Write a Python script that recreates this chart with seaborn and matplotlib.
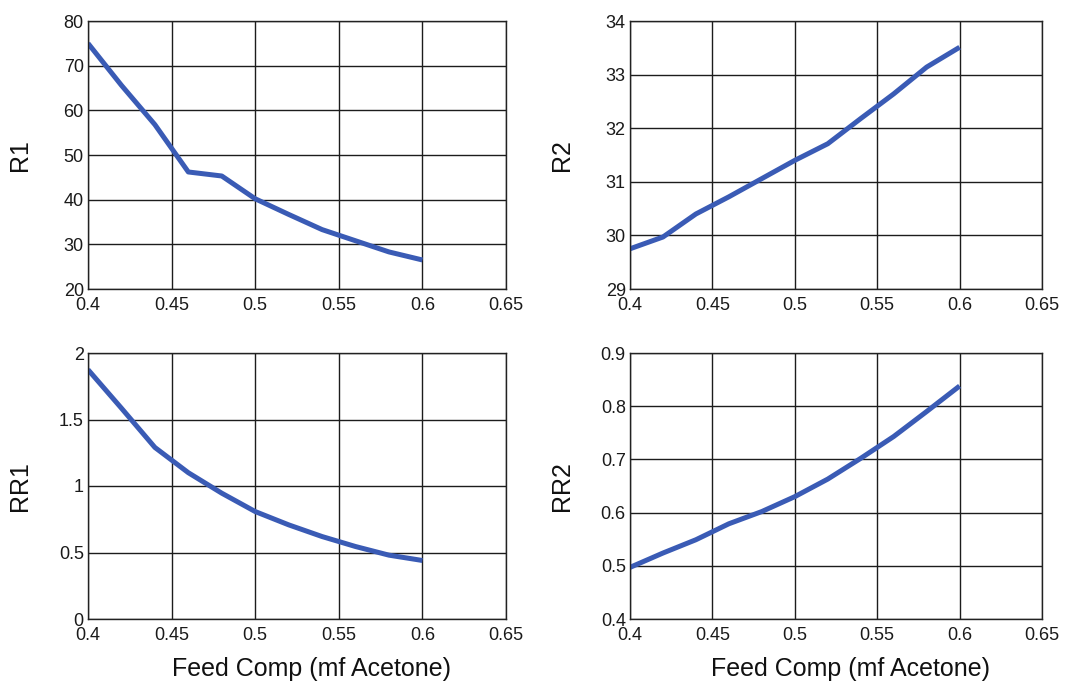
import matplotlib
matplotlib.use("Agg")
import matplotlib.pyplot as plt
import seaborn as sns
import pandas as pd

# Feed composition (mole fraction acetone)
feed_comp = [0.40, 0.42, 0.44, 0.46, 0.48, 0.50, 0.52, 0.54, 0.56, 0.58, 0.60]

# Column responses
r1 = [75.0, 65.6, 56.8, 46.2, 45.3, 40.2, 36.7, 33.3, 30.8, 28.3, 26.5]
r2 = [29.75, 29.97, 30.40, 30.72, 31.06, 31.40, 31.71, 32.18, 32.64, 33.14, 33.51]
rr1 = [1.875, 1.585, 1.29, 1.10, 0.946, 0.808, 0.708, 0.62, 0.545, 0.48, 0.44]
rr2 = [0.497, 0.524, 0.549, 0.579, 0.602, 0.630, 0.663, 0.702, 0.743, 0.790, 0.838]

x_ticks = [0.4, 0.45, 0.5, 0.55, 0.6, 0.65]
x_tick_labels = ["0.4", "0.45", "0.5", "0.55", "0.6", "0.65"]

panels = [
    ("R1", r1, (20, 80), [20, 30, 40, 50, 60, 70, 80], ["20", "30", "40", "50", "60", "70", "80"]),
    ("R2", r2, (29, 34), [29, 30, 31, 32, 33, 34], ["29", "30", "31", "32", "33", "34"]),
    ("RR1", rr1, (0, 2), [0, 0.5, 1, 1.5, 2], ["0", "0.5", "1", "1.5", "2"]),
    ("RR2", rr2, (0.4, 0.9), [0.4, 0.5, 0.6, 0.7, 0.8, 0.9], ["0.4", "0.5", "0.6", "0.7", "0.8", "0.9"]),
]

sns.set_theme(style="whitegrid")
plt.rcParams["font.family"] = ["Liberation Sans", "DejaVu Sans"]
plt.rcParams["axes.edgecolor"] = "black"
plt.rcParams["axes.linewidth"] = 1.0

fig = plt.figure(figsize=(10.72, 6.82), dpi=100)

W, H = 1072, 682
boxes = [
    (88, 21, 506, 289),
    (630, 21, 1042, 289),
    (88, 353, 506, 619),
    (630, 353, 1042, 619),
]

line_color = "#3a5bb5"

for (name, vals, ylim, yt, ytl), (x0, y0, x1, y1) in zip(panels, boxes):
    ax = fig.add_axes([x0 / W, 1 - y1 / H, (x1 - x0) / W, (y1 - y0) / H])
    df = pd.DataFrame({"x": feed_comp, "y": vals})
    sns.lineplot(data=df, x="x", y="y", ax=ax, color=line_color, linewidth=3.6,
                 solid_capstyle="butt", solid_joinstyle="round")
    ax.set_xlim(0.4, 0.65)
    ax.set_ylim(*ylim)
    ax.set_xticks(x_ticks)
    ax.set_xticklabels(x_tick_labels)
    ax.set_yticks(yt)
    ax.set_yticklabels(ytl)
    ax.grid(True, color="#1c1c1c", linewidth=1.0, linestyle="-")
    ax.set_facecolor("white")
    for sp in ax.spines.values():
        sp.set_visible(True)
        sp.set_color("#222222")
        sp.set_linewidth(1.0)
    ax.tick_params(axis="both", direction="in", length=3, width=0.8,
                   labelsize=13, colors="#222222", labelcolor="#1a1a1a")
    ax.tick_params(axis="x", pad=5.5)
    ax.tick_params(axis="y", pad=3)
    ax.set_ylabel(name, fontsize=18, color="#111111")
    ax.yaxis.set_label_coords(-56 / (x1 - x0), 0.5)
    if name in ("RR1", "RR2"):
        ax.set_xlabel("Feed Comp (mf Acetone)", fontsize=18, color="#111111")
        ax.xaxis.set_label_coords(0.535, -0.143)
    else:
        ax.set_xlabel("")

fig.savefig("out.png", dpi=100, facecolor="white")
